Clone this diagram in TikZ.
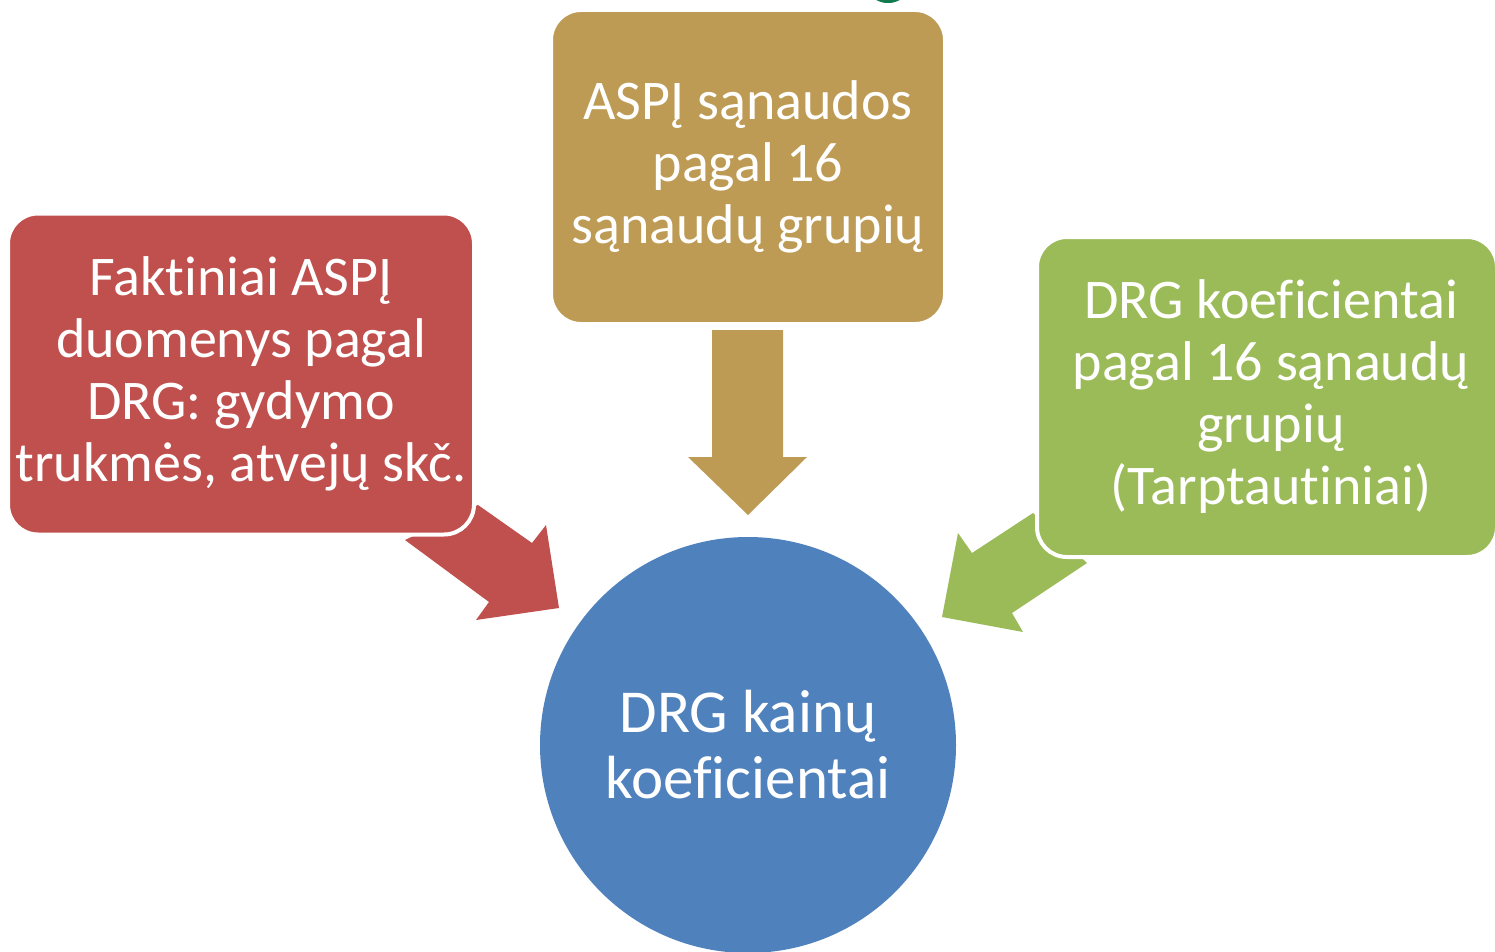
\documentclass[tikz,border=0pt]{standalone}
\usepackage{fontspec}
\setmainfont{Carlito}[Ligatures=NoCommon]
\definecolor{goldc}{RGB}{190,155,84}
\definecolor{redc}{RGB}{192,80,77}
\definecolor{greenc}{RGB}{155,187,89}
\definecolor{bluec}{RGB}{79,129,189}
\definecolor{darkg}{RGB}{16,122,80}
\tikzset{
  box/.style={rectangle, rounded corners=30pt, draw=white, line width=4pt, text=white, align=center,
    font=\fontsize{56}{62}\selectfont, inner sep=0pt},
}
\begin{document}
\begin{tikzpicture}[x=1pt,y=-1pt]
\useasboundingbox (0,0) rectangle (1495,952);
\begin{scope}
\clip (0,0) rectangle (1495,952);
% top dark green blob
\fill[darkg] (888,-8) ellipse [x radius=17, y radius=11];
% arrows
\fill[goldc] (712,330) -- (783,330) -- (783,457) -- (807,457) -- (748,515) -- (688,457) -- (712,457) -- cycle;
\fill[redc] (405,540) -- (478,505) -- (532,543) -- (546,525) -- (559,608) -- (476,620) -- (489,602) -- cycle;
\fill[greenc] (1033,513) -- (972,553) -- (958,533) -- (942,617) -- (1023,632) -- (1012,613) -- (1087,563) -- cycle;
% boxes
\node[box, fill=goldc, minimum width=394pt, minimum height=314pt] (gold) at (748,167)
  {ASPĮ sąnaudos\\pagal 16\\sąnaudų grupių};
\node[box, fill=redc, minimum width=466pt, minimum height=321pt] (red) at (241,374)
  {Faktiniai ASPĮ\\duomenys pagal\\DRG: gydymo\\trukmės, atvejų skč.};
\node[box, fill=greenc, minimum width=460pt, minimum height=320pt] (green) at (1267,397)
  {\hspace*{8pt}DRG koeficientai\\\hspace*{8pt}pagal 16 sąnaudų\\\hspace*{8pt}grupių\\\hspace*{8pt}(Tarptautiniai)};
% circle
\node[circle, fill=bluec, minimum size=416pt, inner sep=0pt, text=white, align=center,
  font=\fontsize{61}{66}\selectfont] (blue) at (748,745) {DRG kainų\\koeficientai};
\end{scope}
\end{tikzpicture}
\end{document}
